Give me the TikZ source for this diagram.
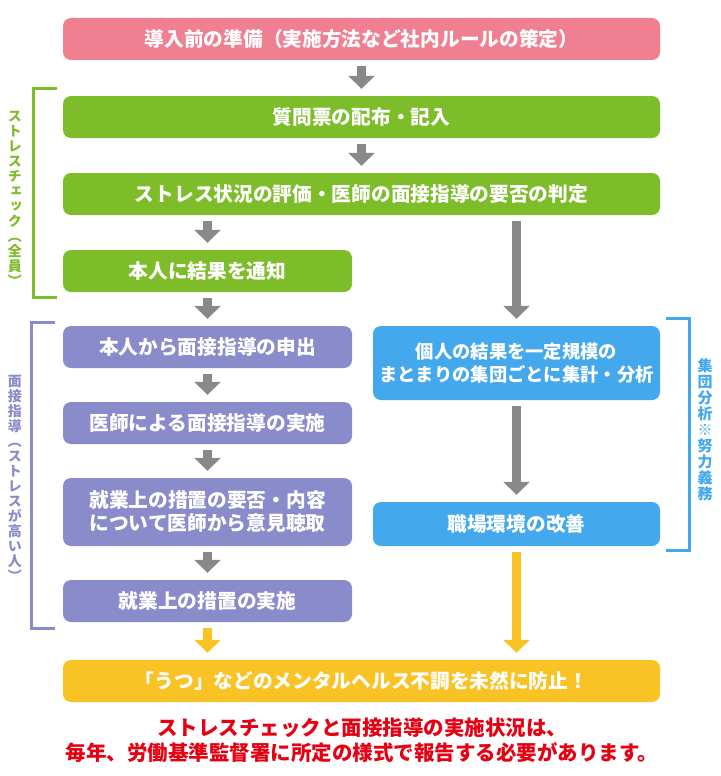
\documentclass[tikz,border=0pt]{standalone}
\usepackage{fontspec}
\usetikzlibrary{arrows.meta}
\newfontfamily\jp{Noto Sans CJK JP}
\newfontfamily\jpv{Noto Sans CJK JP}[RawFeature=+vert]
\definecolor{prepink}{HTML}{F07F91}
\definecolor{checkgreen}{HTML}{7DBD29}
\definecolor{talkpurple}{HTML}{8A8BCB}
\definecolor{groupblue}{HTML}{44A8EC}
\definecolor{goalyellow}{HTML}{FAC325}
\definecolor{arrowgray}{HTML}{898989}
\definecolor{notered}{HTML}{E50012}

\begin{document}
\begin{tikzpicture}[x=1pt,y=-1pt,
  stepbox/.style={rounded corners=8pt,text=white,align=center,inner sep=0pt,
    font=\jp\bfseries\fontsize{19.7}{23}\selectfont},
  widebox/.style={stepbox,minimum width=597pt,minimum height=42pt},
  leftbox/.style={stepbox,minimum width=289pt,minimum height=42pt},
  rightbox/.style={stepbox,minimum width=287pt,minimum height=44pt},
  garrow/.style={draw=arrowgray,line width=9pt,shorten <=6pt,shorten >=7pt,
    -{Triangle[width=26pt,length=13pt]}},
  yarrow/.style={garrow,draw=goalyellow},
  bracket/.style={line width=3pt},
  sidetext/.style={align=center,inner sep=0pt,
    font=\jpv\bfseries\fontsize{14}{15}\selectfont}]
\useasboundingbox (0,0) rectangle (720,776);

% main column
\node[widebox,fill=prepink] (prep) at (361.5,39) {導入前の準備（実施方法など社内ルールの策定）};
\node[widebox,fill=checkgreen] (quest) at (361.5,117) {質問票の配布・記入};
\node[widebox,fill=checkgreen] (eval) at (361.5,194) {ストレス状況の評価・医師の面接指導の要否の判定};
\node[leftbox,fill=checkgreen] (notify) at (207.5,271) {本人に結果を通知};
\node[leftbox,fill=talkpurple] (ask) at (207.5,347) {本人から面接指導の申出};
\node[leftbox,fill=talkpurple] (talk) at (207.5,423) {医師による面接指導の実施};
\node[leftbox,fill=talkpurple,minimum height=68pt] (hear) at (207.5,512) {就業上の措置の要否・内容\\について医師から意見聴取};
\node[leftbox,fill=talkpurple] (act) at (207.5,601) {就業上の措置の実施};
\node[widebox,fill=goalyellow] (goal) at (361.5,681) {「うつ」などのメンタルヘルス不調を未然に防止！};

% group analysis column
\node[rightbox,fill=groupblue,minimum height=74pt,font=\jp\bfseries\fontsize{18.3}{23}\selectfont] (anl) at (516.5,363)
  {個人の結果を一定規模の\\まとまりの集団ごとに集計・分析};
\node[rightbox,fill=groupblue] (impr) at (516.5,524) {職場環境の改善};

\node[align=center,text=notered,font=\jp\bfseries\fontsize{20.5}{25}\selectfont] (note) at (362,740)
  {ストレスチェックと面接指導の実施状況は、\\毎年、労働基準監督署に所定の様式で報告する必要があります。};

% arrows
\draw[garrow] (prep) -- (quest);
\draw[garrow] (quest) -- (eval);
\draw[garrow] (eval.south -| notify.north) -- (notify);
\draw[garrow] (eval.south -| anl.north) -- (anl);
\draw[garrow] (notify) -- (ask);
\draw[garrow] (ask) -- (talk);
\draw[garrow] (talk) -- (hear);
\draw[garrow] (hear) -- (act);
\draw[garrow] (anl) -- (impr);
\draw[yarrow] (act) -- (act.south |- goal.north);
\draw[yarrow] (impr) -- (impr.south |- goal.north);

% brackets
\draw[bracket,checkgreen] (57,88) -- (33,88) -- (33,297) -- (57,297);
\node[sidetext,text=checkgreen] (checklbl) at (15,199)
  {ス\\ト\\レ\\ス\\チ\\ェ\\ッ\\ク\\（\\全\\員\\）};
\draw[bracket,talkpurple] (55,322) -- (31,322) -- (31,628) -- (55,628);
\node[sidetext,text=talkpurple] (talklbl) at (15,478)
  {面\\接\\指\\導\\（\\ス\\ト\\レ\\ス\\が\\高\\い\\人\\）};
\draw[bracket,groupblue] (666,318) -- (689,318) -- (689,550) -- (666,550);
\node[sidetext,text=groupblue,font=\jpv\bfseries\fontsize{15}{16}\selectfont] (grouplbl) at (705,430)
  {集\\団\\分\\析\\※\\努\\力\\義\\務};
\end{tikzpicture}
\end{document}
